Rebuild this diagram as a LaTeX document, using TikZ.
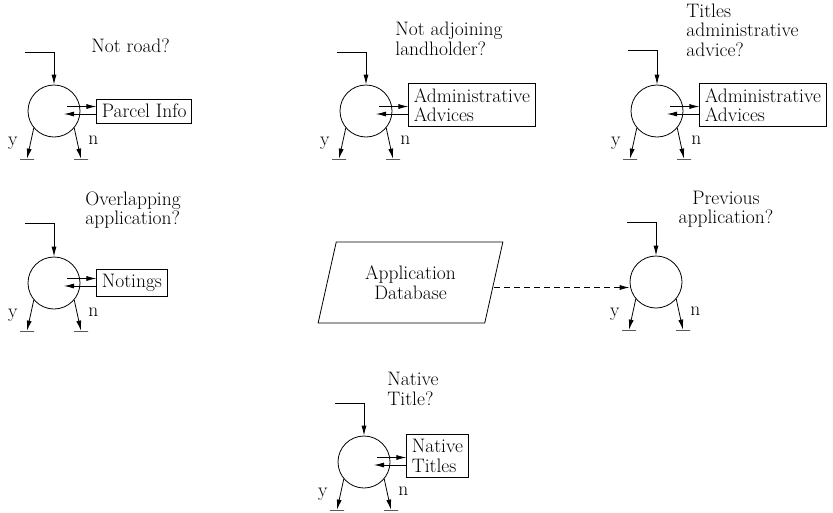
\documentclass[tikz,border=0pt]{standalone}
\usepackage{fontspec}
\usetikzlibrary{shapes.geometric, arrows.meta, positioning}

\tikzstyle{test} = [circle, draw, minimum size=52pt, inner sep=0pt]
\tikzstyle{store} = [rectangle, draw, align=left, inner xsep=5pt, inner ysep=5pt]
\tikzstyle{database} = [trapezium, trapezium left angle=73.5, trapezium right angle=106.5, trapezium stretches=true, minimum width=185pt, minimum height=81pt, draw, align=center]
\tikzstyle{question} = [align=left, anchor=south west, inner sep=0pt]
\tikzstyle{ground} = [draw, minimum width=14pt, minimum height=0pt, inner sep=0pt]
\tikzstyle{arrow} = [->, >={Latex[length=10pt,width=5pt]}]
\tikzstyle{dashed-arrow} = [arrow, dash pattern=on 6pt off 4pt]

\begin{document}
\begin{tikzpicture}[x=1pt, y=-1pt, line width=0.8pt, font=\fontsize{19.5}{19.5}\selectfont]
\useasboundingbox (0,0) rectangle (833,512);

% tests
\node (t1) [test] at (54,111) {};
\node (t2) [test] at (366,111) {};
\node (t3) [test] at (657,111) {};
\node (t4) [test] at (54,283) {};
\node (t5) [test] at (656,282) {};
\node (t6) [test] at (364,462) {};

% questions
\node (q1) [question] at (91,53) {Not road?};
\node (q2) [question] at (395,56) {Not adjoining\\landholder?};
\node (q3) [question] at (686,57) {Titles\\administrative\\advice?};
\node (q4) [question] at (85,229) {Overlapping\\application?};
\node (q5) [question, anchor=south, align=center] at (726,228) {Previous\\application?};
\node (q6) [question] at (387,406) {Native\\Title?};

% stores
\node (b1) [store, right=16pt of t1] {Parcel Info};
\node (b2) [store, right=16pt of t2, yshift=6pt] {Administrative\\Advices};
\node (b3) [store, right=16pt of t3, yshift=6pt] {Administrative\\Advices};
\node (b4) [store, right=16pt of t4] {Notings};
\node (b6) [store, right=16pt of t6, yshift=6pt] {Native\\Titles};
\node (db) [database] at (410.5,282.5) {Application\\Database};

% entries
\coordinate (in1) at (25,52);
\coordinate (in2) at (337,52);
\coordinate (in3) at (628,50);
\coordinate (in4) at (25,223);
\coordinate (in5) at (627,222);
\coordinate (in6) at (335,403);
\draw [arrow] (in1) -| (t1);
\draw [arrow] (in2) -| (t2);
\draw [arrow] (in3) -| (t3);
\draw [arrow] (in4) -| (t4);
\draw [arrow] (in5) -| (t5);
\draw [arrow] (in6) -| (t6);

% lookups
\coordinate (o1) at ([shift={(13,-4.5)}]t1.center);
\coordinate (i1) at ([shift={(10,3)}]t1.center);
\coordinate (o2) at ([shift={(13,-4.5)}]t2.center);
\coordinate (i2) at ([shift={(10,3)}]t2.center);
\coordinate (o3) at ([shift={(13,-4.5)}]t3.center);
\coordinate (i3) at ([shift={(10,3)}]t3.center);
\coordinate (o4) at ([shift={(13,-4.5)}]t4.center);
\coordinate (i4) at ([shift={(10,3)}]t4.center);
\coordinate (o6) at ([shift={(13,-4.5)}]t6.center);
\coordinate (i6) at ([shift={(10,3)}]t6.center);
\draw [arrow] (o1) -- (o1 -| b1.west);
\draw [arrow] (i1 -| b1.west) -- (i1);
\draw [arrow] (o2) -- (o2 -| b2.west);
\draw [arrow] (i2 -| b2.west) -- (i2);
\draw [arrow] (o3) -- (o3 -| b3.west);
\draw [arrow] (i3 -| b3.west) -- (i3);
\draw [arrow] (o4) -- (o4 -| b4.west);
\draw [arrow] (i4 -| b4.west) -- (i4);
\draw [arrow] (o6) -- (o6 -| b6.west);
\draw [arrow] (i6 -| b6.west) -- (i6);

\coordinate (d5) at ([yshift=-5pt]db.east);
\draw [dashed-arrow] (d5) -- (d5 -| t5.west);

% exits
\node (y1) [ground] at ([shift={(-27,48)}]t1.center) {};
\node (n1) [ground] at ([shift={(27,48)}]t1.center) {};
\node (y2) [ground] at ([shift={(-27,48)}]t2.center) {};
\node (n2) [ground] at ([shift={(27,48)}]t2.center) {};
\node (y3) [ground] at ([shift={(-27,48)}]t3.center) {};
\node (n3) [ground] at ([shift={(27,48)}]t3.center) {};
\node (y4) [ground] at ([shift={(-27,48)}]t4.center) {};
\node (n4) [ground] at ([shift={(27,48)}]t4.center) {};
\node (y5) [ground] at ([shift={(-27,48)}]t5.center) {};
\node (n5) [ground] at ([shift={(27,48)}]t5.center) {};
\node (y6) [ground] at ([shift={(-27,48)}]t6.center) {};
\node (n6) [ground] at ([shift={(27,48)}]t6.center) {};
\draw [arrow] (t1.220) -- node[left=9pt] {y} (y1);
\draw [arrow] (t1.320) -- node[right=7pt, yshift=3pt] {n} (n1);
\draw [arrow] (t2.220) -- node[left=9pt] {y} (y2);
\draw [arrow] (t2.320) -- node[right=7pt, yshift=3pt] {n} (n2);
\draw [arrow] (t3.220) -- node[left=9pt] {y} (y3);
\draw [arrow] (t3.320) -- node[right=7pt, yshift=3pt] {n} (n3);
\draw [arrow] (t4.220) -- node[left=9pt] {y} (y4);
\draw [arrow] (t4.320) -- node[right=7pt, yshift=3pt] {n} (n4);
\draw [arrow] (t5.220) -- node[left=9pt] {y} (y5);
\draw [arrow] (t5.320) -- node[right=7pt, yshift=3pt] {n} (n5);
\draw [arrow] (t6.220) -- node[left=9pt] {y} (y6);
\draw [arrow] (t6.320) -- node[right=7pt, yshift=3pt] {n} (n6);

\end{tikzpicture}
\end{document}
